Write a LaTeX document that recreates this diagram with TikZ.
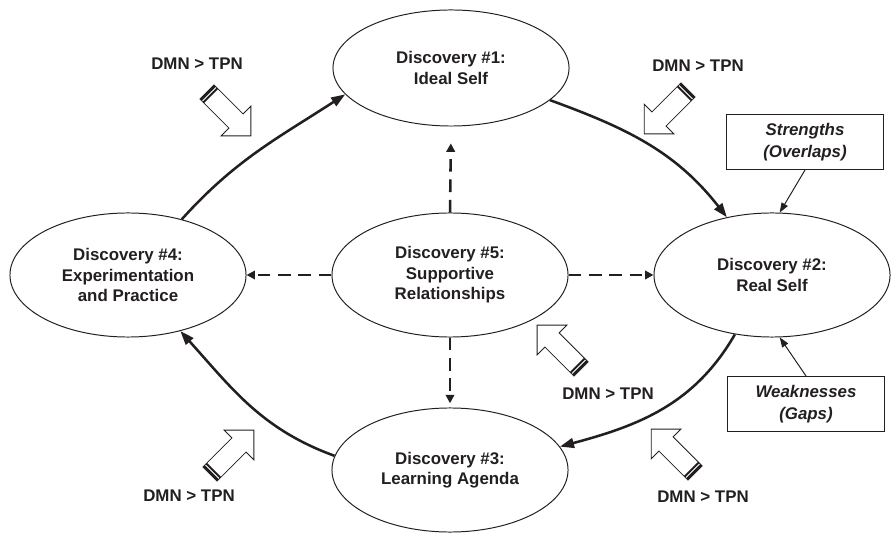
\documentclass[tikz,border=0pt]{standalone}
\usepackage{fontspec}
\setmainfont{Liberation Sans}
\usetikzlibrary{shapes.geometric,arrows.meta}
\definecolor{ink}{HTML}{231F20}
\tikzset{
  disc/.style={ellipse, draw=ink, line width=0.7pt, minimum width=5.9cm,
    minimum height=3.1cm, inner sep=0pt, align=center, text=ink,
    font=\fontsize{12}{14.5}\selectfont\bfseries},
  notebox/.style={rectangle, draw=ink, line width=0.7pt, minimum width=3.925cm,
    minimum height=1.375cm, align=center, text=ink,
    font=\fontsize{12}{15.5}\selectfont\bfseries\itshape},
  dmn/.style={text=ink, font=\fontsize{12}{14}\selectfont\bfseries},
  cyclearrow/.style={draw=ink, line width=1.8pt, -{Triangle[length=10pt,width=7pt]}},
  supportarrow/.style={draw=ink, line width=1.8pt, dash pattern=on 9pt off 5.5pt,
    -{Triangle[length=6pt,width=6pt]}},
  pointer/.style={draw=ink, line width=0.7pt, -{Triangle[length=7pt,width=5pt]}},
  dmnarrow/.pic={
    \draw[ink, fill=white, line width=0.6pt, line join=miter]
      (0,-10) -- (41,-10) -- (41,-21) -- (62,0) -- (41,21) -- (41,10) -- (0,10) -- cycle;
    \fill[ink] (0,-10) rectangle (2.5,10);
    \fill[ink] (3.8,-10) rectangle (5.8,10);
  }
}
\begin{document}
\begin{tikzpicture}[x=0.025cm,y=0.025cm]
  \useasboundingbox (0,0) rectangle (891,532);
  % the five discoveries
  \node[disc, minimum height=2.9cm] (e1) at (451,464) {Discovery \#1:\\Ideal Self};
  \node[disc] (e2) at (772,257) {Discovery \#2:\\Real Self};
  \node[disc] (e3) at (450,62) {Discovery \#3:\\Learning Agenda};
  \node[disc] (e4) at (128,257) {Discovery \#4:\\Experimentation\\and Practice};
  \node[disc] (e5) at (450,257) {Discovery \#5:\\Supportive\\Relationships};
  % notes on the real self
  \node[notebox] (strengths) at (805,390) {Strengths\\(Overlaps)};
  \node[notebox] (weak) at (806,128) {Weaknesses\\(Gaps)};
  % cycle
  \draw[cyclearrow] (e1.-18) to[out=-20,in=128] (e2.128);
  \draw[cyclearrow] (e2.238) to[out=-120,in=15] (e3.12);
  \draw[cyclearrow] (e3.173) to[out=160,in=-48] (e4.-47);
  \draw[cyclearrow] (e4.46) to[out=48,in=-147] (e1.194);
  % support
  \draw[supportarrow, shorten >=12pt] (e5.north) -- (e1.south);
  \draw[supportarrow, shorten >=3pt] (e5.south) -- (e3.north);
  \draw[supportarrow] (e5.west) -- (e4.east);
  \draw[supportarrow] (e5.east) -- (e2.west);
  \draw[pointer] (strengths.south) -- (e2.83);
  \draw[pointer] (weak.north) -- (e2.-83);
  % DMN > TPN
  \node[dmn] (dmn1) at (197,468) {DMN > TPN};
  \node[dmn] (dmn2) at (698,466) {DMN > TPN};
  \node[dmn] (dmn3) at (608,138) {DMN > TPN};
  \node[dmn] (dmn4) at (189,36) {DMN > TPN};
  \node[dmn] (dmn5) at (703,35) {DMN > TPN};
  \pic[rotate=-45] at (207,440) {dmnarrow};
  \pic[rotate=-135] at (688,442) {dmnarrow};
  \pic[rotate=135] at (581,163) {dmnarrow};
  \pic[rotate=45] at (210,58) {dmnarrow};
  \pic[rotate=135] at (695,59) {dmnarrow};
\end{tikzpicture}
\end{document}
